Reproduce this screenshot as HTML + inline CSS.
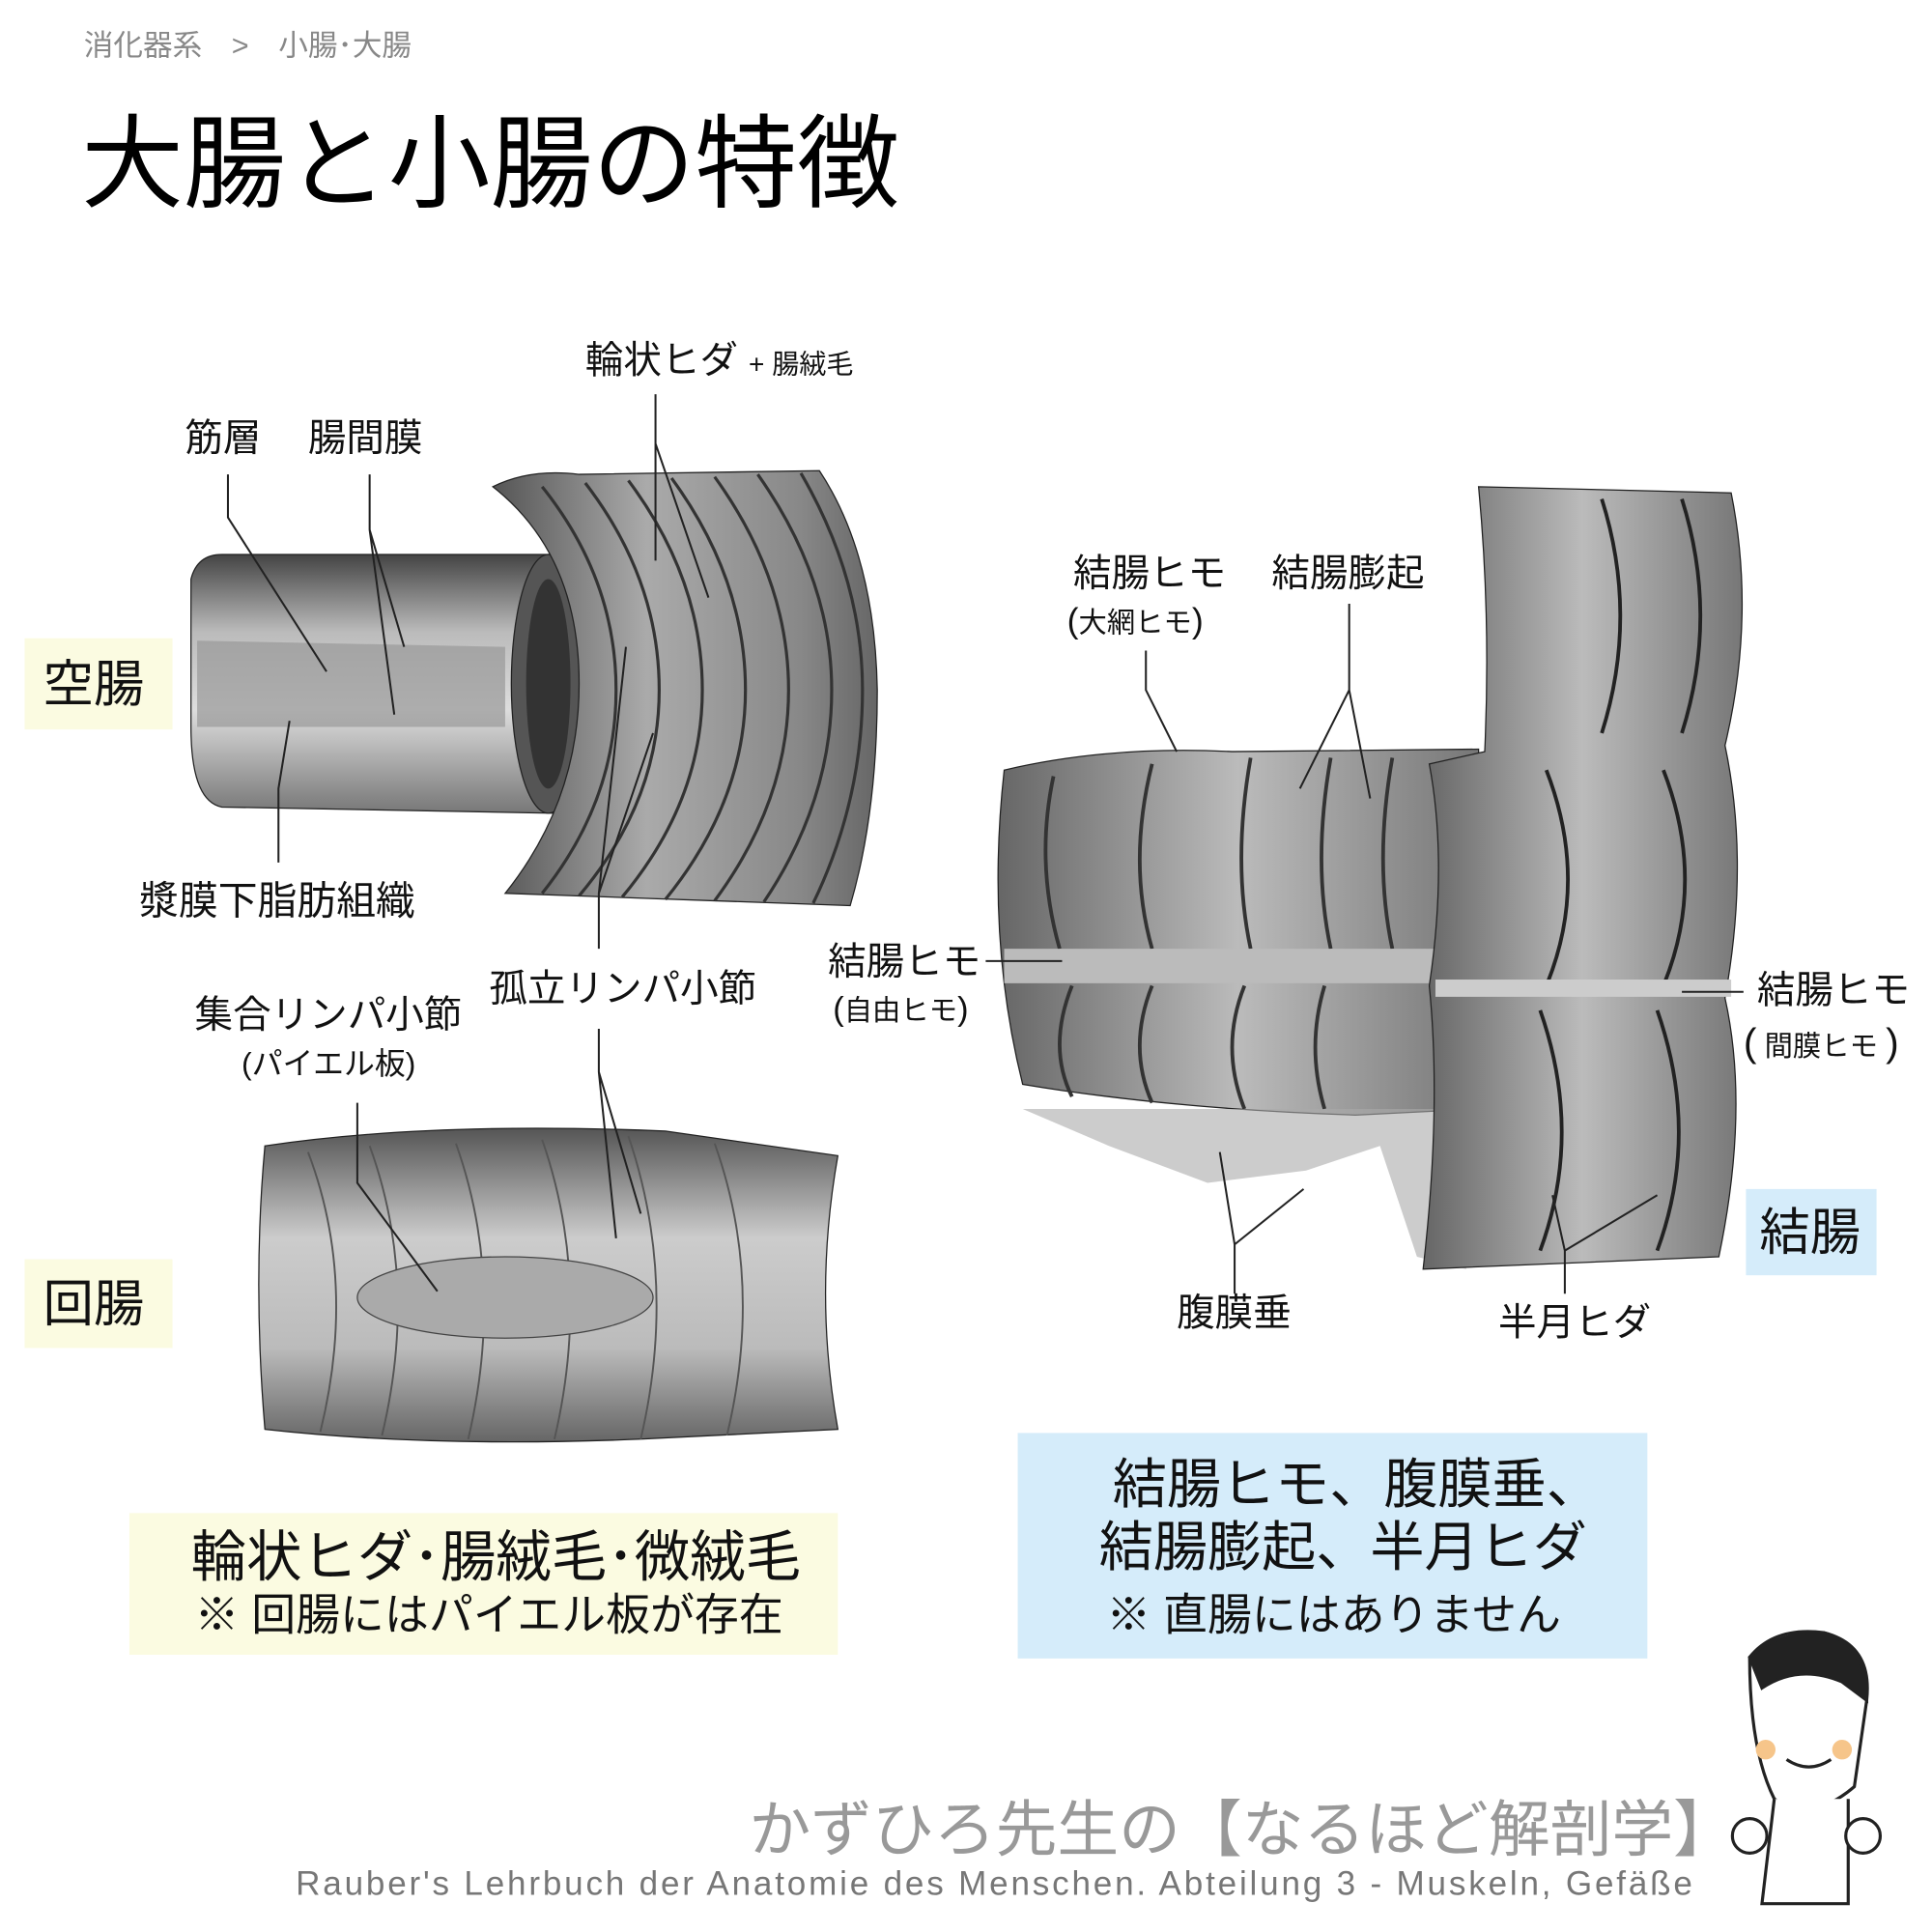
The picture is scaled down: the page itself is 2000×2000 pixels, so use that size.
<!DOCTYPE html>
<html><head><meta charset="utf-8"><style>
html,body{margin:0;padding:0;background:#fff;}
#w{width:1568px;height:1568px;position:relative;transform:scale(1.27551);transform-origin:0 0;font-family:"Liberation Sans","Noto Sans CJK JP",sans-serif;color:#111;overflow:hidden}
.t{position:absolute;white-space:nowrap;line-height:1}
.box{position:absolute}
svg{position:absolute;left:0;top:0}
</style></head><body><div id="w">
<div class="t" style="left:68px;top:26px;font-size:24px;color:#888">消化器系　&gt;　小腸･大腸</div>
<div class="t" style="left:66px;top:92px;font-size:83px;color:#000">大腸と小腸の特徴</div>

<div class="box" style="left:20px;top:518px;width:120px;height:74px;background:#fbfbe1"></div>
<div class="t" style="left:35px;top:535px;font-size:41px">空腸</div>
<div class="box" style="left:20px;top:1022px;width:120px;height:72px;background:#fbfbe1"></div>
<div class="t" style="left:35px;top:1038px;font-size:41px">回腸</div>

<svg width="1568" height="1568" viewBox="0 0 1568 1568">
<defs>
<linearGradient id="g1" x1="0" y1="0" x2="0" y2="1"><stop offset="0" stop-color="#444"/><stop offset=".3" stop-color="#bbb"/><stop offset=".6" stop-color="#ddd"/><stop offset="1" stop-color="#777"/></linearGradient>
<linearGradient id="g2" x1="0" y1="0" x2="1" y2="0"><stop offset="0" stop-color="#555"/><stop offset=".4" stop-color="#aaa"/><stop offset=".8" stop-color="#888"/><stop offset="1" stop-color="#666"/></linearGradient>
<linearGradient id="g3" x1="0" y1="0" x2="0" y2="1"><stop offset="0" stop-color="#555"/><stop offset=".35" stop-color="#ccc"/><stop offset=".7" stop-color="#bbb"/><stop offset="1" stop-color="#666"/></linearGradient>
<linearGradient id="g4" x1="0" y1="0" x2="1" y2="0"><stop offset="0" stop-color="#666"/><stop offset=".5" stop-color="#bbb"/><stop offset="1" stop-color="#777"/></linearGradient>
</defs>
<path d="M155 470 Q160 450 180 450 L450 450 L450 660 L180 655 Q155 650 155 590 Z" fill="url(#g1)" stroke="#222"/>
<path d="M160 520 L410 525 L410 590 L160 590 Z" fill="#999" opacity=".7"/>
<ellipse cx="445" cy="555" rx="30" ry="105" fill="#555" stroke="#222"/>
<ellipse cx="445" cy="555" rx="18" ry="85" fill="#333"/>
<path d="M400 395 Q430 380 470 385 L665 382 Q710 450 712 560 Q712 660 690 735 L410 725 Q470 650 470 555 Q470 450 400 395 Z" fill="url(#g2)" stroke="#222"/>
<g stroke="#333" stroke-width="2.5" fill="none">
<path d="M440 395 Q500 470 500 560 Q500 650 440 725"/><path d="M475 392 Q535 470 535 560 Q535 650 470 727"/>
<path d="M510 390 Q570 470 570 560 Q570 650 505 728"/><path d="M545 388 Q605 470 605 560 Q605 650 540 730"/>
<path d="M580 387 Q640 470 640 560 Q640 650 580 731"/><path d="M615 385 Q675 470 675 560 Q675 650 620 732"/>
<path d="M650 384 Q700 470 700 560 Q700 650 660 733"/>
</g>
<path d="M215 930 Q350 910 540 918 L680 938 Q660 1050 680 1160 L520 1168 Q350 1175 215 1160 Q205 1040 215 930 Z" fill="url(#g3)" stroke="#222"/>
<g stroke="#555" stroke-width="1.5" fill="none">
<path d="M300 930 Q340 1040 310 1165"/><path d="M370 928 Q410 1040 380 1168"/><path d="M440 925 Q480 1040 450 1168"/><path d="M510 922 Q550 1040 520 1168"/><path d="M580 928 Q620 1040 590 1165"/><path d="M250 935 Q290 1040 260 1162"/>
</g>
<ellipse cx="410" cy="1053" rx="120" ry="33" fill="#aaa" stroke="#444"/>
<path d="M815 625 Q900 605 1000 610 L1200 608 L1200 900 L1100 905 Q950 900 830 880 Q800 760 815 625 Z" fill="url(#g4)" stroke="#222"/>
<g stroke="#333" stroke-width="3" fill="none">
<path d="M855 630 Q840 700 860 770"/><path d="M935 620 Q915 700 935 770"/><path d="M1015 615 Q1000 700 1015 770"/><path d="M1080 615 Q1065 700 1080 770"/><path d="M1130 615 Q1115 700 1130 770"/>
<path d="M870 800 Q850 850 870 890"/><path d="M935 800 Q915 850 935 895"/><path d="M1010 800 Q990 850 1010 900"/><path d="M1075 800 Q1060 850 1075 900"/>
</g>
<rect x="815" y="770" width="385" height="28" fill="#bbb"/>
<path d="M830 900 L900 930 L980 960 L1060 950 L1120 930 L1150 1020 L1190 1030 L1180 900 Z" fill="#aaa" opacity=".6"/>
<path d="M1200 395 L1405 400 Q1425 500 1400 605 Q1420 700 1400 810 Q1420 900 1395 1020 L1155 1030 Q1170 900 1160 800 Q1175 700 1160 620 L1205 610 Q1210 500 1200 395 Z" fill="url(#g4)" stroke="#222"/>
<g stroke="#222" stroke-width="3" fill="none">
<path d="M1300 405 Q1330 500 1300 595"/><path d="M1365 405 Q1395 500 1365 595"/>
<path d="M1255 625 Q1290 715 1255 800"/><path d="M1350 625 Q1385 715 1350 800"/>
<path d="M1250 820 Q1285 920 1250 1015"/><path d="M1345 820 Q1380 920 1345 1015"/>
</g>
<rect x="1165" y="795" width="240" height="14" fill="#ccc"/>
<g stroke="#222" stroke-width="1.6" fill="none">
<path d="M532 320 L532 455 M532 360 L575 485"/>
<path d="M185 385 L185 420 L265 545"/><path d="M300 385 L300 430 L320 580 M300 430 L328 525"/>
<path d="M226 700 L226 640 L235 585"/>
<path d="M486 770 L486 725 L508 525 M486 725 L530 595"/>
<path d="M486 835 L486 870 L500 1005 M486 870 L520 985"/>
<path d="M290 895 L290 960 L355 1048"/>
<path d="M930 528 L930 560 L955 610"/><path d="M1095 490 L1095 560 L1055 640 M1095 560 L1112 648"/>
<path d="M800 780 L862 780"/><path d="M1365 805 L1415 805"/>
<path d="M1002 1050 L1002 1010 L990 935 M1002 1010 L1058 965"/>
<path d="M1270 1050 L1270 1015 L1260 970 M1270 1015 L1345 970"/>
</g>
</svg>

<div class="t" style="left:475px;top:277px;font-size:31px">輪状ヒダ <span style="font-size:22px">+ 腸絨毛</span></div>
<div class="t" style="left:150px;top:340px;font-size:31px">筋層</div>
<div class="t" style="left:250px;top:340px;font-size:31px">腸間膜</div>
<div class="t" style="left:113px;top:715px;font-size:32px">漿膜下脂肪組織</div>
<div class="t" style="left:397px;top:787px;font-size:31px">孤立リンパ小節</div>
<div class="t" style="left:158px;top:808px;font-size:31px">集合リンパ小節</div>
<div class="t" style="left:196px;top:852px;font-size:25px">(パイエル板)</div>
<div class="t" style="left:871px;top:450px;font-size:31px">結腸ヒモ</div>
<div class="t" style="left:866px;top:490px;font-size:28px">(<span style="font-size:23px">大網ヒモ</span>)</div>
<div class="t" style="left:1032px;top:450px;font-size:31px">結腸膨起</div>
<div class="t" style="left:672px;top:765px;font-size:31px">結腸ヒモ</div>
<div class="t" style="left:676px;top:806px;font-size:27px">(<span style="font-size:23px">自由ヒモ</span>)</div>
<div class="t" style="left:1426px;top:788px;font-size:31px">結腸ヒモ</div>
<div class="t" style="left:1415px;top:830px;font-size:32px">(<span style="font-size:23px"> 間膜ヒモ </span>)</div>
<div class="t" style="left:955px;top:1050px;font-size:31px">腹膜垂</div>
<div class="t" style="left:1216px;top:1058px;font-size:31px">半月ヒダ</div>

<div class="box" style="left:1417px;top:965px;width:106px;height:70px;background:#d5ecfa"></div>
<div class="t" style="left:1428px;top:980px;font-size:41px">結腸</div>

<div class="box" style="left:105px;top:1228px;width:575px;height:115px;background:#fbfbe1"></div>
<div class="t" style="left:155px;top:1241px;font-size:45px">輪状ヒダ･腸絨毛･微絨毛</div>
<div class="t" style="left:158px;top:1293px;font-size:36px">※ 回腸にはパイエル板が存在</div>

<div class="box" style="left:826px;top:1163px;width:511px;height:183px;background:#d5ecfa"></div>
<div class="t" style="left:903px;top:1184px;font-size:44px">結腸ヒモ、腹膜垂、</div>
<div class="t" style="left:892px;top:1235px;font-size:44px">結腸膨起、半月ヒダ</div>
<div class="t" style="left:898px;top:1293px;font-size:36px">※ 直腸にはありません</div>

<div class="t" style="left:608px;top:1460px;font-size:50px;color:#999">かずひろ先生の【なるほど解剖学】</div>
<div class="t" style="left:240px;top:1515px;font-size:27.5px;letter-spacing:2.2px;color:#777">Rauber's Lehrbuch der Anatomie des Menschen. Abteilung 3 - Muskeln, Gefäße</div>

<svg width="1568" height="1568" viewBox="0 0 1568 1568" style="pointer-events:none">
<g stroke="#222" stroke-width="2.5" fill="#fff">
<path d="M1420 1345 Q1440 1320 1480 1325 Q1520 1335 1515 1380 L1505 1450 Q1470 1480 1440 1460 Q1420 1420 1420 1345 Z"/>
<path d="M1420 1345 Q1440 1325 1480 1325 Q1515 1335 1515 1380 L1495 1365 Q1460 1350 1430 1370 Z" fill="#222"/>
<path d="M1440 1460 L1430 1545 L1500 1545 L1500 1460"/>
<circle cx="1420" cy="1490" r="14"/><circle cx="1512" cy="1490" r="14"/>
<path d="M1450 1428 Q1468 1440 1486 1428" fill="none"/>
</g>
<circle cx="1433" cy="1420" r="8" fill="#f6c58a"/><circle cx="1495" cy="1420" r="8" fill="#f6c58a"/>
</svg>
</div></body></html>
